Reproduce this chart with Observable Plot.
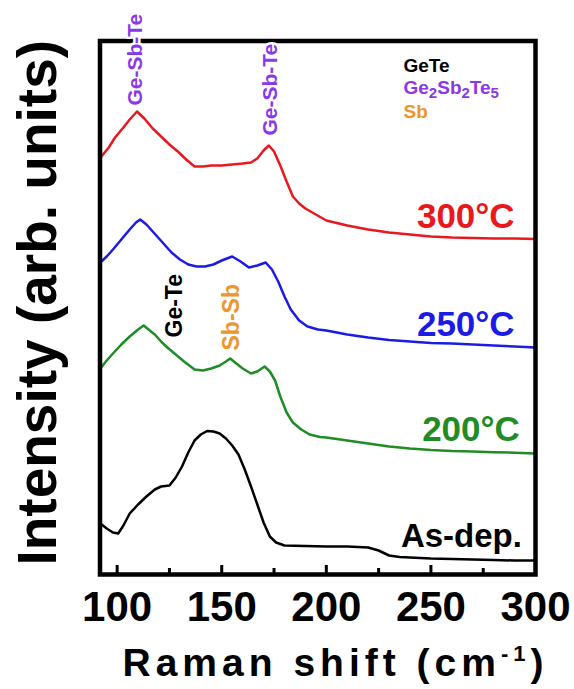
<!DOCTYPE html>
<html><head><meta charset="utf-8">
<script src="https://cdn.jsdelivr.net/npm/d3@7"></script>
<script src="https://cdn.jsdelivr.net/npm/@observablehq/plot@0.6"></script>
<style>
html,body{margin:0;padding:0;background:#fff;}
#chart svg{display:block;}
</style></head><body><div id="chart"></div>
<script>
// ---- data (Raman shift in cm-1, intensity in arb. units, curves offset as in the figure) ----
const shift300 = [92, 96, 99, 103, 106, 109.5, 113, 117, 121, 125, 129, 133, 137, 141, 145, 150, 155, 160, 164, 167, 170, 172.5, 175, 178, 181, 184, 187, 190, 195, 200, 210, 220, 230, 240, 250, 260, 270, 280, 290, 300];
const int300 = [417, 427, 437, 447, 455, 463, 456, 446, 438, 430, 423, 415, 408, 408, 409, 409, 410, 411, 412, 416, 424, 429, 423, 409, 393, 378, 371, 366, 360, 354, 349, 345, 342, 340, 338, 337, 336.5, 336, 336, 335.5];

const shift250 = [92, 95, 98, 102, 106, 109, 111, 114, 117, 120, 123, 126, 130, 134, 138, 142, 146, 150, 155, 159, 163, 167, 171, 174, 177, 180, 183, 187, 191, 196, 200, 210, 220, 230, 240, 250, 260, 270, 280, 290, 300];
const int250 = [312, 318, 325, 335, 345, 352, 355, 350, 343, 336, 329, 322, 315, 310, 308, 308, 310, 314, 318, 313, 307, 309, 312, 305, 293, 278, 265, 254, 248, 245, 244, 240, 237, 234.5, 233, 231.5, 231, 230, 229, 228, 227];

const shift200 = [92, 95, 98, 102, 106, 110, 112.7, 115, 118, 121, 124, 128, 132, 137, 141, 145, 149, 152, 154, 157, 160, 164, 167, 170.5, 173, 175.5, 178, 181, 184, 188, 192, 197, 200, 210, 220, 230, 240, 250, 260, 270, 280, 290, 300];
const int200 = [206, 214, 221, 230, 238, 245, 249, 245, 240, 233, 227, 220, 213, 205, 204, 206, 209, 213, 216, 211, 206, 201, 203, 208, 203, 194, 178, 162, 152, 145, 140, 137.5, 137, 134, 131, 128, 126, 124.5, 123.5, 123, 122.3, 121.8, 121];

const shiftAsDep = [92, 95, 98, 100.5, 103, 106, 110, 114, 118, 121, 125, 128, 131, 134, 137, 140, 143, 146, 149, 152, 155, 158, 161, 164, 167, 170, 173, 176, 180, 190, 200, 210, 220, 225, 230, 235, 240, 250, 260, 270, 280, 290, 300];
const intAsDep = [51, 46, 42, 41, 49, 61, 70, 78, 85, 88, 89, 97, 108, 122, 134, 140, 143.5, 143, 141, 136, 129, 120, 105, 88, 70, 52, 38, 32, 29, 28.5, 28, 28, 27, 24, 19, 17.5, 17, 16, 15.5, 15, 14.5, 14, 14];

const curveNames = ["300°C", "250°C", "200°C", "As-dep."];
const curveLabelX = [290, 290, 292.5, 293.5];
const curveLabelY = [347, 239, 134, 28];

const peakLabels = ["Ge-Sb-Te", "Ge-Sb-Te", "Ge-Te", "Sb-Sb"];
const peakX = [108.7, 173.2, 127.5, 154.7];
const peakY = [469, 439, 237, 224];

const legendNames = ["GeTe", "Ge2Sb2Te5", "Sb"];
const legendX = 236.9;
const legendY = [503, 480.5, 457];

const xTickLabels = [100, 150, 200, 250, 300];
const xMajorTicks = [100, 150, 200, 250, 300];
const xMinorTicks = [125, 175, 225, 275];
const xDomain = [91.8, 300];
const yDomain = [0, 533.5];

// ---- styles ----
const RED = "#e8181d", BLUE = "#1b1be6", GREEN = "#1f8c25", BLACK = "#000000";
const PURPLE = "#8a38ea", ORANGE = "#ee952f";
const curveColors = [RED, BLUE, GREEN, BLACK];
const peakColors = [PURPLE, PURPLE, BLACK, ORANGE];
const peakSizes = [21, 21, 23, 23];
const peakHalo = [true, true, false, false];
const legendColors = [BLACK, PURPLE, ORANGE];

const W = 574, H = 689, mL = 99.5, mR = 39, mT = 40.5, mB = 115;
const frameH = H - mT - mB;

const toRows = (xs, ys) => xs.map((x, i) => ({x, y: ys[i]}));
const series = [
  toRows(shift300, int300),
  toRows(shift250, int250),
  toRows(shift200, int200),
  toRows(shiftAsDep, intAsDep)
];

const marks = [];
series.forEach((rows, i) => {
  marks.push(Plot.line(rows, {x: "x", y: "y", stroke: curveColors[i], strokeWidth: 2.5, strokeLinejoin: "round"}));
});
marks.push(Plot.frame({stroke: BLACK, strokeWidth: 4.5}));
marks.push(Plot.tickX(xMajorTicks, {x: d => d, stroke: BLACK, strokeWidth: 3, insetTop: frameH - 9}));
marks.push(Plot.tickX(xMinorTicks, {x: d => d, stroke: BLACK, strokeWidth: 3, insetTop: frameH - 6}));
marks.push(Plot.axisX({ticks: xTickLabels, tickSize: 0, tickPadding: 17, fontSize: 42, fontWeight: "bold", label: null, tickFormat: d => String(d), fill: BLACK}));
curveNames.forEach((t, i) => {
  marks.push(Plot.text([{x: curveLabelX[i], y: curveLabelY[i], t}], {
    x: "x", y: "y", text: "t", fill: curveColors[i], textAnchor: "end", lineAnchor: "bottom",
    fontSize: i === 3 ? 33 : 35, fontWeight: "bold"
  }));
});
peakLabels.forEach((t, i) => {
  marks.push(Plot.text([{x: peakX[i], y: peakY[i], t}], {
    x: "x", y: "y", text: "t", fill: peakColors[i], rotate: -90, textAnchor: "start", lineAnchor: "middle",
    fontSize: peakSizes[i], fontWeight: "bold",
    ...(peakHalo[i] ? {stroke: "white", strokeWidth: 5, paintOrder: "stroke"} : {})
  }));
});
legendNames.forEach((t, i) => {
  marks.push(Plot.text([{x: legendX, y: legendY[i], t}], {
    x: "x", y: "y", text: "t", fill: legendColors[i], textAnchor: "start", lineAnchor: "bottom",
    fontSize: 19, fontWeight: "bold"
  }));
});
marks.push(Plot.text(["Raman shift (cm-1)"], {
  frameAnchor: "bottom-left", dx: 22.5, dy: 101, textAnchor: "start", lineAnchor: "bottom",
  fontSize: 39, fontWeight: "bold", fill: BLACK
}));
marks.push(Plot.text(["Intensity (arb. units)"], {
  frameAnchor: "left", rotate: -90, dx: -44.5, dy: -5, textAnchor: "middle", lineAnchor: "bottom",
  fontSize: 55, fontWeight: "bold", fill: BLACK
}));

const chart = Plot.plot({
  width: W, height: H,
  marginLeft: mL, marginRight: mR, marginTop: mT, marginBottom: mB,
  x: {domain: xDomain},
  y: {domain: yDomain, axis: null},
  style: {fontFamily: "'Liberation Sans', Arial, Helvetica, sans-serif", background: "white", color: "black", overflow: "visible"},
  marks
});
document.getElementById("chart").appendChild(chart);

// ---- rich text: superscripts / subscripts ----
function richText(match, parts) {
  d3.select(chart).selectAll("text").filter(function () { return this.textContent === match; }).each(function () {
    const t = d3.select(this);
    t.text(null);
    let shift = 0;
    for (const p of parts) {
      const ts = t.append("tspan").text(p.s);
      const target = p.shift || 0;
      if (target !== shift) { ts.attr("dy", target - shift); shift = target; }
      if (p.size) ts.attr("font-size", p.size);
    }
  });
}
richText("Raman shift (cm-1)", [
  {s: "Raman shift (cm"}, {s: "-1", shift: -15, size: 22}, {s: ")", shift: 0}
]);
richText("Ge2Sb2Te5", [
  {s: "Ge"}, {s: "2", shift: 4, size: 15}, {s: "Sb", shift: 0}, {s: "2", shift: 4, size: 15},
  {s: "Te", shift: 0}, {s: "5", shift: 4, size: 15}
]);
d3.select(chart).selectAll("text").filter(function () { return this.textContent === "Raman shift (cm-1)"; })
  .style("letter-spacing", "5px");
</script>
</body></html>
